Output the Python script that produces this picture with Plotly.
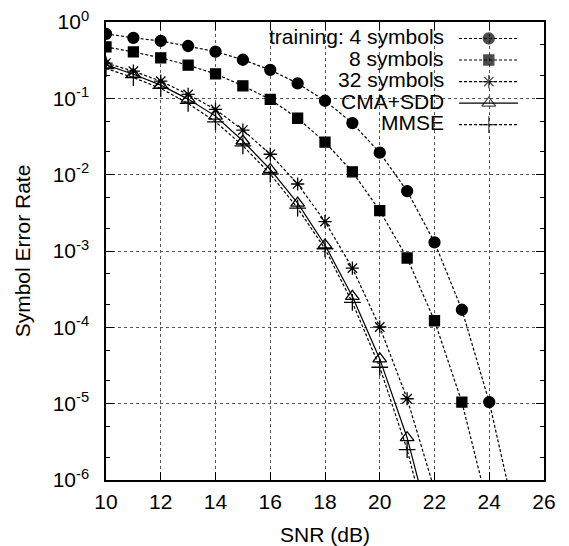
import plotly.graph_objects as go

# ---- data ----
snr_train4 = [10, 11, 12, 13, 14, 15, 16, 17, 18, 19, 20, 21, 22, 23, 24, 25]
ser_train4 = [0.70, 0.62, 0.565, 0.485, 0.41, 0.32, 0.236, 0.157, 0.093, 0.0474,
              0.0194, 0.0061, 0.0013, 1.7e-4, 1.05e-5, 2.7e-7]

snr_train8 = [10, 11, 12, 13, 14, 15, 16, 17, 18, 19, 20, 21, 22, 23, 24]
ser_train8 = [0.472, 0.405, 0.339, 0.272, 0.209, 0.146, 0.0968, 0.0548, 0.0267,
              0.0109, 0.00338, 8.1e-4, 1.22e-4, 1.05e-5, 3.8e-7]

snr_train32 = [10, 11, 12, 13, 14, 15, 16, 17, 18, 19, 20, 21, 22]
ser_train32 = [0.29, 0.227, 0.168, 0.1125, 0.0716, 0.0384, 0.0185, 0.00755,
               0.00243, 5.97e-4, 1.01e-4, 1.16e-5, 7.4e-7]

snr_cma = [10, 11, 12, 13, 14, 15, 16, 17, 18, 19, 20, 21, 22]
ser_cma = [0.275, 0.207, 0.149, 0.0977, 0.0585, 0.0276, 0.0117, 0.00423,
           0.0012, 2.54e-4, 3.86e-5, 3.58e-6, 1.5e-7]

snr_mmse = [10, 11, 12, 13, 14, 15, 16, 17, 18, 19, 20, 21, 22]
ser_mmse = [0.246, 0.187, 0.135, 0.0857, 0.0493, 0.0239, 0.0102, 0.00364,
            0.00107, 2.12e-4, 3.0e-5, 2.5e-6, 1.0e-7]

series_names = ["training: 4 symbols", "8 symbols", "32 symbols", "CMA+SDD", "MMSE"]

x_tickvals = [10, 12, 14, 16, 18, 20, 22, 24, 26]
y_tickvals = [1e-6, 1e-5, 1e-4, 1e-3, 1e-2, 1e-1, 1]
y_ticktext = ["10<sup>-6</sup>", "10<sup>-5</sup>", "10<sup>-4</sup>", "10<sup>-3</sup>",
              "10<sup>-2</sup>", "10<sup>-1</sup>", "10<sup>0</sup>"]

# ---- styles ----
FONT = "Liberation Sans"
FS = 21
DASH = "3px,2px"
styles = [
    dict(symbol="circle", size=11, dash=DASH),
    dict(symbol="square", size=10, dash=DASH),
    dict(symbol="asterisk-open", size=11, dash=DASH),
    dict(symbol="triangle-up-open", size=12, dash="solid"),
    dict(symbol="cross-thin-open", size=12, dash=DASH),
]
data = [(snr_train4, ser_train4), (snr_train8, ser_train8), (snr_train32, ser_train32),
        (snr_cma, ser_cma), (snr_mmse, ser_mmse)]

fig = go.Figure()

for (xs, ys), name, st in zip(data, series_names, styles):
    fig.add_trace(go.Scatter(
        x=xs, y=ys, name=name, mode="lines+markers",
        line=dict(color="black", width=1.2, dash=st["dash"]),
        marker=dict(symbol=st["symbol"], size=st["size"], color="black",
                    line=dict(color="black", width=1.3)),
        showlegend=False,
    ))

# ---- gnuplot-style key (text right-aligned, sample to the right) ----
key_text_x = 0.776
key_x0, key_xm, key_x1 = 0.806, 0.874, 0.941
key_rows = [0.964, 0.917, 0.870, 0.823, 0.776]
for name, st, ky in zip(series_names, styles, key_rows):
    fig.add_trace(go.Scatter(
        x=[key_x0, key_xm, key_x1], y=[ky, ky, ky], mode="lines+markers",
        xaxis="x2", yaxis="y2", showlegend=False, hoverinfo="skip",
        line=dict(color="black", width=1.2, dash=st["dash"]),
        marker=dict(symbol=st["symbol"], size=[0, st["size"], 0], color="black",
                    line=dict(color="black", width=[0, 1.3, 0])),
    ))
    fig.add_annotation(
        x=key_text_x, y=ky, xref="paper", yref="paper", text=name,
        showarrow=False, xanchor="right", yanchor="middle", yshift=2,
        font=dict(family=FONT, size=FS, color="black"),
    )

# the grid is not drawn inside the key area
fig.add_shape(type="rect", xref="paper", yref="paper", x0=0.18, x1=0.968,
              y0=0.751, y1=1.0, fillcolor="white", line=dict(width=0),
              layer="between")

axis_common = dict(
    showline=True, linecolor="black", linewidth=1.5, mirror="ticks",
    ticks="inside", ticklen=8, tickwidth=1, tickcolor="black",
    showgrid=True, gridcolor="#555555", gridwidth=1, griddash="dot",
    zeroline=False, automargin=False,
    tickfont=dict(family=FONT, size=FS, color="black"),
)

fig.update_layout(
    width=569, height=546,
    margin=dict(l=106, r=25, t=22, b=66, autoexpand=False),
    paper_bgcolor="white", plot_bgcolor="white",
    font=dict(family=FONT, size=FS, color="black"),
    xaxis=dict(
        range=[10, 26], tickmode="array", tickvals=x_tickvals,
        title=dict(text="SNR (dB)", font=dict(family=FONT, size=FS), standoff=24),
        ticklabelstandoff=2,
        **axis_common,
    ),
    yaxis=dict(
        type="log", range=[-6, 0], tickmode="array", tickvals=y_tickvals,
        ticktext=y_ticktext,
        title=dict(text="Symbol Error Rate", font=dict(family=FONT, size=FS), standoff=16),
        ticklabelstandoff=11,
        minor=dict(ticks="inside", ticklen=4, tickwidth=1, tickcolor="black",
                   dtick="D2", showgrid=False),
        **axis_common,
    ),
    xaxis2=dict(range=[0, 1], overlaying="x", visible=False, showticklabels=False,
                showgrid=False, fixedrange=True, automargin=False),
    yaxis2=dict(range=[0, 1], overlaying="y", visible=False, showticklabels=False,
                showgrid=False, fixedrange=True, automargin=False),
)

fig.write_html("out.html")
